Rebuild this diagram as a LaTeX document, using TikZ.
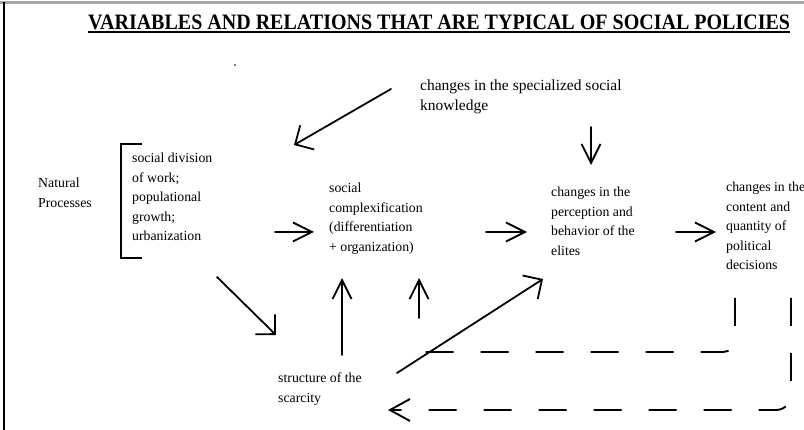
\documentclass[tikz,border=0pt]{standalone}
\usepackage{graphicx}
\usepackage{fontspec}
\setmainfont{Liberation Serif}
\usetikzlibrary{arrows.meta}
\begin{document}
\begin{tikzpicture}[x=1pt,y=-1pt,txt/.style={anchor=north west, inner sep=0pt, align=left, font=\fontsize{13.8}{19.5}\selectfont},varrow/.style={line width=1.8pt, line cap=round, -{Straight Barb[length=19pt,width=19pt]}},carrow/.style={line width=1.8pt, line cap=round, -{Straight Barb[length=14pt,width=28pt]}},backloop/.style={line width=1.9pt, dash pattern=on 28pt off 27pt, rounded corners=12pt}]
\useasboundingbox (0,0) rectangle (804,430);
\draw[gray!70, line width=2.2pt] (0,2.5) -- (804,2.5); \draw[line width=1.3pt] (4,2) -- (4,430);
\node[anchor=base west, inner sep=0pt, font=\bfseries\fontsize{22}{26}\selectfont] (title) at (88,29.3) {\scalebox{0.91}[1]{VARIABLES AND RELATIONS THAT ARE TYPICAL OF SOCIAL POLICIES}};
\draw[line width=1.4pt] ([yshift=-2.7pt]title.base west) -- ([yshift=-2.7pt]title.base east);
\fill[gray] (234,64) rectangle (236,66);
\node[txt, font=\fontsize{15.5}{20}\selectfont] (know) at (420,79.5) {changes in the specialized social\\knowledge};
\node[txt] (natural) at (38,178) {Natural\\Processes};
\node[txt] (work) at (132,153) {social division\\of work;\\populational\\growth;\\urbanization};
\node[txt] (complex) at (329,183) {social\\complexification\\(differentiation\\+ organization)};
\node[txt] (elites) at (551,187) {changes in the\\perception and\\behavior of the\\elites};
\node[txt] (decisions) at (726,182) {changes in the\\content and\\quantity of\\political\\decisions};
\node[txt] (scarcity) at (278,373) {structure of the\\scarcity};
\draw[line width=2pt] (142,144) -- (121,144) -- (121,258) -- (142,258);
\coordinate (wc0) at (275,232); \coordinate (wc1) at (314,232); \draw[varrow] (wc0) -- (wc1);
\coordinate (ce0) at (486,232); \coordinate (ce1) at (527,232); \draw[varrow] (ce0) -- (ce1);
\coordinate (ed0) at (676,232); \coordinate (ed1) at (716,232); \draw[varrow] (ed0) -- (ed1);
\coordinate (ke0) at (591,127); \coordinate (ke1) at (591,165); \draw[varrow] (ke0) -- (ke1);
\coordinate (kc0) at (391,89); \coordinate (kc1) at (294,145); \draw[carrow] (kc0) -- (kc1);
\coordinate (ws0) at (217,277); \coordinate (ws1) at (276,335); \draw[carrow] (ws0) -- (ws1);
\coordinate (sc0) at (342,355); \coordinate (sc1) at (342,278); \draw[varrow] (sc0) -- (sc1);
\coordinate (lc0) at (419,318); \coordinate (lc1) at (419,278); \draw[varrow] (lc0) -- (lc1);
\coordinate (se0) at (397,373); \coordinate (se1) at (543,279); \draw[carrow] (se0) -- (se1);
\coordinate (up0) at (735,298); \coordinate (up1) at (435,352); \coordinate (up2) at (423,342);
\draw[backloop] (up0) |- (up1) to[out=180,in=-40] (up2);
\coordinate (lo0) at (791,298); \coordinate (lo1) at (388,410);
\draw[backloop, rounded corners=15pt, -{Straight Barb[length=20pt,width=22pt]}] (lo0) |- (lo1);
\end{tikzpicture}
\end{document}
